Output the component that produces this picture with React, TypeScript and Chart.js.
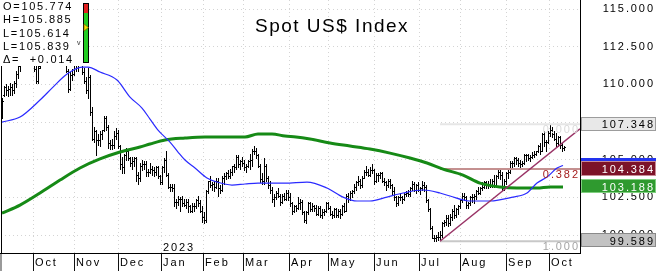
import React, { useEffect, useRef } from "react";
import { Chart, registerables } from "chart.js";

Chart.register(...registerables);

const FONT = "'Liberation Sans', Arial, sans-serif";

const titleText = "Spot US$ Index";
const monthLabels = ["Oct", "Nov", "Dec", "Jan", "Feb", "Mar", "Apr", "May", "Jun", "Jul", "Aug", "Sep", "Oct"];
const monthTickIdx = [15.5, 36, 58, 79.5, 100.5, 120.5, 143.5, 163, 186, 208.5, 229, 252, 273.5];
const yearLabel = "2023";
const yearIdx = 79.5;
const yTicks = [100, 102.5, 105, 107.5, 110, 112.5, 115];
const legendLines = ["O=105.774", "H=105.885", "L=105.614", "L=105.839", "Δ=  +0.014"];

// daily bars [open, high, low, close]
const ohlc: number[][] = [
  [108.6,109.1,107.8,108.9],[109.3,109.9,109.2,109.8],[109.8,110.0,109.3,109.6],[109.6,109.9,109.2,109.7],
  [109.7,110.1,109.3,109.8],[109.8,110.0,109.3,109.6],[109.6,110.2,109.4,110.1],[110.1,110.9,109.8,110.7],
  [110.7,111.6,110.4,111.2],[111.2,111.7,110.9,111.4],[111.4,113.2,111.3,113.1],[113.1,114.5,112.9,114.1],
  [114.1,114.7,113.7,114.1],[114.1,114.8,112.6,112.6],[112.6,113.3,111.7,112.2],[112.2,112.6,111.6,112.1],
  [112.1,112.5,110.9,111.0],[111.0,111.2,110.1,110.2],[110.2,111.3,110.1,111.1],[111.2,112.3,111.1,112.2],
  [112.2,112.8,111.9,112.8],[112.8,113.1,112.5,113.0],[113.0,113.3,112.6,113.2],[113.2,113.5,112.9,113.2],
  [113.2,113.9,112.2,112.4],[112.4,113.3,112.3,113.3],[113.3,113.4,111.9,112.0],[112.0,112.4,111.7,112.1],
  [112.1,113.0,112.0,112.9],[112.9,113.1,112.4,112.8],[112.8,113.5,111.9,112.0],[112.0,112.3,111.3,111.9],
  [111.9,112.0,110.8,110.9],[110.9,111.0,109.5,109.7],[109.7,110.8,109.6,110.6],[110.6,111.0,110.3,110.7],
  [110.7,111.6,110.6,111.5],[111.5,111.8,110.9,111.4],[111.4,112.0,110.9,111.9],[111.9,113.0,111.8,112.9],
  [112.9,113.1,110.7,110.8],[110.8,111.1,110.1,110.2],[110.2,110.5,109.4,109.6],[109.6,111.1,109.1,110.5],
  [110.5,110.6,108.0,108.2],[108.2,108.5,106.3,106.4],[106.4,107.2,106.2,106.9],[106.9,107.0,105.3,106.3],
  [106.3,106.7,106.0,106.3],[106.3,106.9,105.9,106.7],[106.7,107.0,106.4,107.0],[107.0,107.9,106.9,107.8],
  [107.8,107.9,107.0,107.2],[107.2,107.3,105.8,106.1],[106.1,106.3,105.7,106.0],[106.0,106.4,105.7,106.0],
  [106.0,106.9,105.8,106.6],[106.6,107.1,106.4,106.8],[106.8,107.0,105.8,105.9],[105.9,106.0,104.4,104.7],
  [104.7,105.2,104.1,104.5],[104.5,105.4,104.1,105.3],[105.3,105.8,105.0,105.6],[105.6,105.7,105.0,105.1],
  [105.1,105.2,104.6,104.8],[104.8,105.2,104.4,104.9],[104.9,105.2,104.6,105.1],[105.1,105.2,103.6,104.0],
  [104.0,104.2,103.4,103.8],[103.8,104.8,103.6,104.6],[104.6,105.0,104.3,104.7],[104.7,104.9,104.4,104.7],
  [104.7,104.9,103.9,104.2],[104.2,104.4,103.9,104.2],[104.2,104.8,104.1,104.4],[104.4,104.6,104.0,104.3],
  [104.3,104.5,103.9,104.2],[104.2,104.6,104.0,104.5],[104.5,104.6,103.8,103.9],[103.9,104.0,103.4,103.5],
  [103.5,104.6,103.4,104.5],[104.5,105.1,104.2,105.0],[105.0,105.6,103.9,104.0],[104.0,104.1,103.1,103.2],
  [103.2,103.4,102.9,103.2],[103.2,103.4,102.9,103.1],[103.1,103.4,101.9,102.2],[102.2,102.4,101.8,102.2],
  [102.2,102.6,102.0,102.4],[102.4,102.5,101.6,102.4],[102.4,102.6,101.9,102.1],[102.1,102.4,101.9,102.0],
  [102.0,102.4,101.8,102.2],[102.2,102.4,101.5,101.9],[101.9,102.0,101.5,101.6],[101.6,102.1,101.5,101.9],
  [101.9,102.1,101.6,101.9],[101.9,102.4,101.8,102.3],[102.3,102.6,101.9,102.1],[102.1,102.3,101.5,101.6],
  [101.6,101.9,100.9,101.2],[101.2,101.5,100.8,101.0],[101.0,103.0,100.9,102.9],[102.9,103.6,102.8,103.6],
  [103.6,103.9,103.2,103.3],[103.3,103.5,103.0,103.4],[103.4,103.6,102.9,103.2],[103.2,103.8,103.1,103.6],
  [103.6,103.8,102.6,103.1],[103.1,103.3,102.8,103.0],[103.0,103.9,102.9,103.8],[103.8,104.1,103.4,103.9],
  [103.9,104.2,103.7,104.1],[104.1,104.3,103.8,103.9],[103.9,104.4,103.8,104.2],[104.2,104.6,104.0,104.6],
  [104.6,104.7,104.2,104.5],[104.5,105.3,104.4,105.2],[105.2,105.3,104.5,104.7],[104.7,105.0,104.4,104.9],
  [104.9,105.2,104.6,104.8],[104.8,105.0,104.3,104.5],[104.5,104.7,104.2,104.6],[104.6,105.0,104.5,104.9],
  [104.9,105.4,104.4,105.0],[105.0,105.7,104.6,105.6],[105.6,105.9,105.4,105.6],[105.6,105.8,105.1,105.3],
  [105.3,105.4,104.5,104.6],[104.6,104.7,103.5,103.7],[103.7,104.1,103.4,103.6],[103.6,105.1,103.4,104.6],
  [104.6,104.7,103.6,103.8],[103.8,103.9,103.1,103.3],[103.3,103.6,102.8,103.0],[103.0,103.2,102.2,102.4],
  [102.4,102.7,101.9,102.5],[102.5,102.9,102.4,102.8],[102.8,103.1,102.5,102.6],[102.6,102.7,102.0,102.2],
  [102.2,102.7,102.1,102.6],[102.6,102.8,102.3,102.4],[102.4,103.0,102.3,102.8],[102.8,103.0,102.3,102.5],
  [102.5,102.8,101.9,102.1],[102.1,102.2,101.4,101.6],[101.6,102.0,101.5,101.9],[101.9,102.0,101.6,101.8],
  [101.8,102.5,101.7,102.1],[102.1,102.4,101.7,102.2],[102.2,102.3,101.4,101.5],[101.5,101.6,100.9,101.0],
  [101.0,101.6,100.8,101.5],[101.5,102.2,101.4,102.1],[102.1,102.2,101.6,101.7],[101.7,102.1,101.6,101.9],
  [101.9,102.0,101.6,101.8],[101.8,102.0,101.3,101.4],[101.4,101.9,101.3,101.8],[101.8,101.9,101.2,101.3],
  [101.3,101.7,101.1,101.5],[101.5,101.7,101.3,101.6],[101.6,102.2,101.5,102.1],[102.1,102.2,101.7,101.8],
  [101.8,101.9,101.3,101.4],[101.4,101.6,101.1,101.3],[101.3,101.8,101.2,101.7],[101.7,101.8,101.2,101.3],
  [101.3,101.7,101.2,101.6],[101.6,101.7,101.1,101.4],[101.4,102.0,101.3,101.9],[101.9,102.1,101.5,101.6],
  [101.6,102.7,101.6,102.6],[102.6,102.8,102.2,102.4],[102.4,102.9,102.3,102.8],[102.8,103.0,102.5,102.9],
  [102.9,103.4,102.8,103.2],[103.2,103.6,103.0,103.5],[103.5,103.9,103.3,103.6],[103.6,103.7,103.1,103.3],
  [103.3,103.9,103.2,103.8],[103.8,104.3,103.8,104.2],[104.2,104.6,104.0,104.2],[104.2,104.4,103.9,104.0],
  [104.0,104.5,103.9,104.3],[104.3,104.7,104.1,104.3],[104.3,104.4,103.4,103.6],[103.6,104.1,103.5,104.0],
  [104.0,104.1,103.6,104.0],[104.0,104.2,103.8,104.1],[104.1,104.2,103.5,103.6],[103.6,103.8,103.3,103.5],
  [103.5,103.6,103.0,103.3],[103.3,103.7,103.2,103.6],[103.6,103.7,103.1,103.3],[103.3,103.4,102.7,102.9],
  [102.9,103.2,102.3,102.5],[102.5,102.6,101.9,102.1],[102.1,102.6,102.0,102.5],[102.5,102.8,102.3,102.5],
  [102.5,102.6,102.1,102.4],[102.4,102.8,102.3,102.7],[102.7,102.9,102.6,102.8],[102.8,103.0,102.6,102.7],
  [102.7,103.2,102.6,103.1],[103.1,103.6,103.0,103.4],[103.4,103.5,102.9,103.0],[103.0,103.4,102.8,103.3],
  [103.3,103.5,102.9,103.0],[103.0,103.2,102.7,103.1],[103.1,103.6,103.0,103.3],[103.3,103.5,102.9,103.2],
  [103.2,103.3,102.2,102.3],[102.3,102.4,101.6,101.7],[101.7,101.8,100.4,100.5],[100.5,100.6,99.8,99.8],
  [99.8,100.0,99.6,99.8],[99.8,100.0,99.6,99.9],[99.9,100.2,99.7,99.9],[99.9,100.3,99.589,100.0],
  [100.0,100.9,99.9,100.8],[100.8,101.0,100.6,100.9],[100.9,101.3,100.7,101.1],[101.1,101.3,100.6,100.8],
  [100.8,101.4,100.7,101.2],[101.2,101.7,101.0,101.6],[101.6,102.0,101.1,101.3],[101.3,101.8,101.2,101.7],
  [101.7,102.0,101.4,101.9],[101.9,102.4,101.8,102.3],[102.3,102.8,102.2,102.6],[102.6,102.8,102.3,102.5],
  [102.5,102.6,101.8,102.0],[102.0,102.2,101.8,102.1],[102.1,102.6,102.0,102.5],[102.5,102.7,102.2,102.5],
  [102.5,102.7,102.1,102.6],[102.6,103.0,102.4,102.9],[102.9,103.2,102.7,102.8],[102.8,103.2,102.7,103.1],
  [103.1,103.5,103.0,103.2],[103.2,103.6,103.1,103.5],[103.5,103.6,103.1,103.4],[103.4,103.6,103.1,103.4],
  [103.4,103.7,103.2,103.3],[103.3,103.7,103.2,103.6],[103.6,104.0,103.2,103.3],[103.3,104.0,103.2,103.9],
  [103.9,104.4,103.8,104.2],[104.2,104.4,103.7,104.0],[104.0,104.2,103.0,103.1],[103.1,103.7,103.0,103.6],
  [103.6,104.2,103.4,104.1],[104.1,104.3,103.8,104.2],[104.2,104.9,104.1,104.8],[104.8,104.9,104.5,104.8],
  [104.8,105.2,104.6,105.1],[105.1,105.2,104.7,105.0],[105.0,105.1,104.6,104.8],[104.8,105.0,104.5,104.7],
  [104.7,104.9,104.6,104.8],[104.8,105.4,104.7,105.3],[105.3,105.4,104.9,105.3],[105.3,105.4,105.0,105.1],
  [105.1,105.3,104.9,105.2],[105.2,105.5,105.1,105.3],[105.3,105.6,105.2,105.4],[105.4,105.6,105.3,105.6],
  [105.6,106.0,105.5,105.9],[105.9,106.1,105.4,105.6],[105.6,106.8,105.6,106.7],[106.7,106.9,105.9,106.2],
  [106.2,106.3,105.6,106.2],[106.2,106.9,106.1,106.8],[106.8,107.348,106.6,107.0],[107.0,107.2,106.5,106.7],
  [106.7,106.9,106.3,106.4],[106.4,106.8,105.9,106.1],[106.1,106.6,105.9,106.5],[106.5,106.6,105.8,106.0],
  [106.0,106.1,105.6,105.8],[105.774,105.885,105.614,105.839],
];

// moving averages read at sample bars: [bar index, value]
const maShort: number[][] = [
  [0,107.5],[9,107.83],[19,108.96],[25.5,109.82],[32.5,110.69],[40,111.15],[43,111.15],[49,110.82],
  [57.5,110.29],[64,109.16],[70,108.43],[74,107.7],[78,106.97],[84,106.17],[88,105.51],[91.5,104.98],
  [96.5,104.45],[102.5,103.79],[107.5,103.52],[115,103.32],[121.5,103.39],[128,103.45],[135,103.45],
  [141.5,103.45],[152.5,103.52],[162.5,103.12],[170.5,102.52],[177.5,102.26],[184,102.26],[192.5,102.52],
  [200.5,102.79],[210.5,102.99],[219,102.79],[224,102.59],[234,102.26],[244,102.26],[255.5,102.52],
  [262.5,102.79],[267.5,103.45],[272.5,103.85],[277.5,104.45],[280.5,104.62],
];
const maLong: number[][] = [
  [0,101.46],[9,101.99],[19,102.79],[29,103.65],[39,104.45],[49,105.05],[59,105.51],[69,105.84],
  [74,106.04],[81.5,106.31],[91.5,106.44],[101.5,106.51],[111.5,106.51],[121.5,106.51],[128,106.71],
  [135,106.71],[141.5,106.57],[147,106.51],[154,106.37],[164,106.11],[174,105.91],[184,105.71],
  [194,105.44],[204,105.11],[212.5,104.78],[220.5,104.38],[230.5,103.98],[239,103.45],[249,103.19],
  [257.5,103.12],[267.5,103.12],[274,103.19],[280.5,103.188],
];
const trendLine: number[][] = [[219, 99.589], [289, 107.05]];
const fibStartIdx = 219;
const fibEndIdx = 289;
const fibValues = [107.348, 104.384, 99.589];
const fibLabels = ["0.000", "0.382", "1.000"];

const Y_MIN = 98.81;
const Y_MAX = 115.6;
const X_MIN = -0.5;
const X_MAX = 289;

function drawText(ctx: CanvasRenderingContext2D, s: string, x: number, y: number, size: number, color: string, align: CanvasTextAlign, spacing: number) {
  ctx.save();
  ctx.font = `${size}px ${FONT}`;
  (ctx as any).letterSpacing = `${spacing}px`;
  ctx.fillStyle = color;
  ctx.textAlign = align;
  ctx.textBaseline = "alphabetic";
  ctx.fillText(s, align === "right" ? x + spacing : x, y);
  ctx.restore();
}

const ohlcPlugin = {
  id: "ohlcBars",
  beforeDatasetsDraw(chart: any) {
    const { ctx, chartArea, scales } = chart;
    const x = scales.x, y = scales.y;
    ctx.save();
    ctx.beginPath();
    ctx.rect(chartArea.left, chartArea.top, chartArea.right - chartArea.left, chartArea.bottom - chartArea.top);
    ctx.clip();
    ctx.fillStyle = "#000";
    ohlc.forEach(([o, h, l, c], i) => {
      const px = Math.round(x.getPixelForValue(i));
      const yh = Math.round(y.getPixelForValue(h));
      const yl = Math.round(y.getPixelForValue(l));
      ctx.fillRect(px, yh, 1, Math.max(1, yl - yh + 1));
      ctx.fillRect(px - 1, Math.round(y.getPixelForValue(o)), 1, 1);
      ctx.fillRect(px + 1, Math.round(y.getPixelForValue(c)), 1, 1);
    });
    ctx.restore();
  },
};

const overlayPlugin = {
  id: "overlay",
  afterDraw(chart: any) {
    const { ctx, chartArea, scales } = chart;
    const x = scales.x, y = scales.y;
    const L = chartArea.left, R = chartArea.right, B = chartArea.bottom;
    ctx.save();
    // frame
    ctx.fillStyle = "#000";
    ctx.fillRect(L, 0, 1, B + 1);
    ctx.fillRect(R, 0, 1, B + 1);
    ctx.fillRect(0, B, R + 1, 1);
    ctx.fillStyle = "#9a9a9a";
    ctx.fillRect(0, B + 1, 2, 271 - B);

    // month ticks + labels
    monthTickIdx.forEach((v, k) => {
      const px = Math.round(x.getPixelForValue(v));
      ctx.fillStyle = "#111";
      ctx.fillRect(px, B + 1, 1, 271 - B);
      drawText(ctx, monthLabels[k], px + 2, 266, 11, "#000", "left", 1.9);
    });
    drawText(ctx, yearLabel, Math.round(x.getPixelForValue(yearIdx)) + 2, 251, 11, "#000", "left", 1.9);

    // right axis labels
    yTicks.forEach((v) => {
      drawText(ctx, v.toFixed(3), 653, Math.round(y.getPixelForValue(v)) + 3, 11, "#000", "right", 1.9);
    });

    // fib labels
    const fibTextColors = ["#dadada", "#a31c1c", "#a4a4a4"];
    fibValues.forEach((v, k) => {
      drawText(ctx, fibLabels[k], 578, Math.round(y.getPixelForValue(v)) + 9, 11, fibTextColors[k], "right", 1.9);
    });

    // value boxes
    const W = 656 - R - 1;
    // short MA marker (mostly covered by the next box)
    const cyS = Math.round(y.getPixelForValue(maShort[maShort.length - 1][1]));
    ctx.fillStyle = "#2233ee";
    ctx.fillRect(R + 1, cyS - 7, W, 14);
    const boxes = [
      { v: fibValues[0], bg: "#e8e8e8", bd: "#9c9c9c", fg: "#000", up: 7, dn: 7 },
      { v: fibValues[1], bg: "#7c1328", bd: "#c98b96", fg: "#fff", up: 8, dn: 7 },
      { v: maLong[maLong.length - 1][1], bg: "#2f9a2f", bd: "#7fcf7f", fg: "#fff", up: 8, dn: 6 },
      { v: fibValues[2], bg: "#c2c2c2", bd: "#8a8a8a", fg: "#000", up: 8, dn: 6 },
    ];
    boxes.forEach((b) => {
      const cy = Math.round(y.getPixelForValue(b.v));
      ctx.fillStyle = b.bd;
      ctx.fillRect(R + 1, cy - b.up, W, b.up + b.dn);
      ctx.fillStyle = b.bg;
      ctx.fillRect(R + 2, cy - b.up + 1, W - 2, b.up + b.dn - 2);
      drawText(ctx, b.v.toFixed(3), 653, cy + 4, 11, b.fg, "right", 1.9);
    });

    // title
    drawText(ctx, titleText, 255, 32, 19, "#000", "left", 1.5);

    // legend box
    ctx.fillStyle = "#fff";
    ctx.fillRect(0, 0, 89, 66);
    const baselines = [10, 23.3, 36.6, 49.9, 63];
    legendLines.forEach((s, k) => drawText(ctx, s, 3, baselines[k], 11, "#000", "left", 1.7));
    drawText(ctx, "v", 77, 45, 7, "#333", "left", 0);
    ctx.fillStyle = "#000";
    ctx.fillRect(83, 3, 6, 60);
    ctx.fillStyle = "#e02020";
    ctx.fillRect(84, 4, 4, 9);
    ctx.fillStyle = "#22cc22";
    ctx.fillRect(84, 13, 4, 49);
    ctx.beginPath();
    ctx.moveTo(84, 24);
    ctx.lineTo(88.5, 27.5);
    ctx.lineTo(84, 31);
    ctx.closePath();
    ctx.fillStyle = "#f2e000";
    ctx.fill();
    ctx.strokeStyle = "#806000";
    ctx.lineWidth = 0.7;
    ctx.stroke();
    ctx.restore();
  },
};

export default function App() {
  const ref = useRef<HTMLCanvasElement | null>(null);
  useEffect(() => {
    document.body.style.margin = "0";
    const canvas = ref.current;
    if (!canvas) return;
    const toXY = (arr: number[][]) => arr.map(([a, b]) => ({ x: a, y: b }));
    const fibDatasets = fibValues.map((v, k) => ({
      data: [{ x: fibStartIdx, y: v }, { x: fibEndIdx, y: v }],
      borderColor: ["#e6e6e6", "#c49090", "#c8c8c8"][k],
      borderWidth: 2,
      pointRadius: 0,
    }));
    const chart = new Chart(canvas, {
      type: "line",
      data: {
        datasets: [
          { data: toXY(trendLine), borderColor: "#993366", borderWidth: 1.5, pointRadius: 0 },
          { data: toXY(maShort), borderColor: "#2b2bff", borderWidth: 1.2, pointRadius: 0, cubicInterpolationMode: "monotone" },
          { data: toXY(maLong), borderColor: "#168a16", borderWidth: 3, pointRadius: 0, cubicInterpolationMode: "monotone" },
          ...fibDatasets,
        ] as any,
      },
      options: {
        responsive: false,
        animation: false,
        devicePixelRatio: 1,
        events: [],
        layout: { padding: { left: 1, right: 0, top: 0, bottom: 0 } },
        plugins: { legend: { display: false }, tooltip: { enabled: false }, title: { display: false } },
        scales: {
          x: {
            type: "linear",
            min: X_MIN,
            max: X_MAX,
            afterBuildTicks: (s: any) => { s.ticks = monthTickIdx.map((v) => ({ value: v })); },
            afterFit: (s: any) => { s.height = 18; },
            ticks: { display: false },
            grid: { color: "#d4d4d4", lineWidth: 1, drawTicks: false },
            border: { display: false, dash: [1, 3] },
          },
          y: {
            type: "linear",
            position: "right",
            min: Y_MIN,
            max: Y_MAX,
            afterBuildTicks: (s: any) => { s.ticks = yTicks.map((v) => ({ value: v })); },
            afterFit: (s: any) => { s.width = 76; },
            ticks: { display: false },
            grid: { color: "#d4d4d4", lineWidth: 1, drawTicks: false },
            border: { display: false, dash: [1, 3] },
          },
        },
      } as any,
      plugins: [ohlcPlugin, overlayPlugin],
    });
    return () => chart.destroy();
  }, []);
  return <canvas ref={ref} width={656} height={271} style={{ display: "block" }} />;
}
